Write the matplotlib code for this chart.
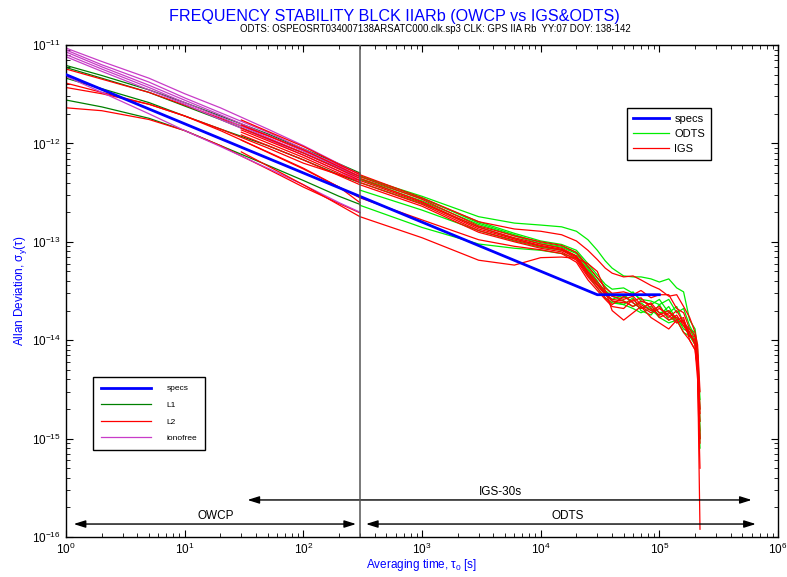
import matplotlib
matplotlib.use("Agg")
import matplotlib.pyplot as plt

plt.rcParams['font.family'] = ['Liberation Sans', 'DejaVu Sans']
plt.rcParams['mathtext.fontset'] = 'custom'
plt.rcParams['mathtext.rm'] = 'Liberation Sans'
plt.rcParams['mathtext.it'] = 'Liberation Sans'
plt.rcParams['mathtext.bf'] = 'Liberation Sans:bold'

# ---------------- data ----------------
spec_tau = [1, 3.0e4, 1.0e5]
spec_val = [5.0e-12, 2.9e-14, 2.9e-14]

owcp_tau = [1, 2, 5, 10, 20, 50, 100, 200, 300]

l1_curves = [
    [6.2e-12, 4.9e-12, 3.5e-12, 2.6e-12, 1.9e-12, 1.25e-12, 8.8e-13, 6.2e-13, 5.0e-13],
    [5.9e-12, 4.6e-12, 3.3e-12, 2.4e-12, 1.75e-12, 1.12e-12, 8.0e-13, 5.6e-13, 4.6e-13],
    [4.6e-12, 3.6e-12, 2.6e-12, 1.9e-12, 1.4e-12, 9.5e-13, 6.8e-13, 4.8e-13, 4.0e-13],
    [2.76e-12, 2.35e-12, 1.8e-12, 1.35e-12, 9.5e-13, 6.0e-13, 4.2e-13, 2.9e-13, 2.4e-13],
]
l2_curves = [
    [5.7e-12, 4.5e-12, 3.3e-12, 2.45e-12, 1.8e-12, 1.2e-12, 8.4e-13, 6.0e-13, 4.9e-13],
    [4.1e-12, 3.3e-12, 2.5e-12, 1.9e-12, 1.4e-12, 9.0e-13, 6.3e-13, 4.8e-13, 4.2e-13],
    [3.7e-12, 3.2e-12, 2.5e-12, 1.9e-12, 1.35e-12, 8.2e-13, 5.6e-13, 3.6e-13, 2.5e-13],
    [2.3e-12, 2.15e-12, 1.75e-12, 1.35e-12, 9.5e-13, 5.5e-13, 3.6e-13, 2.45e-13, 1.97e-13],
]
iono_curves = [
    [9.3e-12, 6.8e-12, 4.6e-12, 3.2e-12, 2.3e-12, 1.4e-12, 9.5e-13, 6.2e-13, 4.8e-13],
    [8.9e-12, 6.3e-12, 4.2e-12, 2.9e-12, 2.05e-12, 1.3e-12, 8.8e-13, 5.9e-13, 4.6e-13],
    [8.5e-12, 6.0e-12, 3.9e-12, 2.75e-12, 1.95e-12, 1.22e-12, 8.4e-13, 5.7e-13, 4.4e-13],
    [8.0e-12, 5.7e-12, 3.7e-12, 2.6e-12, 1.85e-12, 1.15e-12, 8.0e-13, 5.5e-13, 4.2e-13],
    [7.6e-12, 5.4e-12, 3.5e-12, 2.5e-12, 1.75e-12, 1.1e-12, 7.6e-13, 5.2e-13, 4.0e-13],
    [4.8e-12, 3.3e-12, 2.0e-12, 1.35e-12, 9.3e-13, 5.6e-13, 3.8e-13, 2.5e-13, 2.0e-13],
]

igs_tau = [30, 100, 300, 1000, 3000, 6000,
           1e4, 1.5e4, 2e4, 2.5e4, 3e4, 3.5e4, 4e4, 5e4, 6e4, 7e4, 8.5e4,
           1e5, 1.2e5, 1.4e5, 1.6e5, 1.8e5, 2e5, 2.1e5, 2.2e5]
igs_curves = [
    [1.73e-12, 9.3e-13, 4.8e-13, 2.8e-13, 1.6e-13, 1.35e-13,
     1.28e-13, 1.18e-13, 1.02e-13, 8.2e-14, 6.6e-14, 5.4e-14, 4.8e-14, 4.4e-14, 4.5e-14, 4.1e-14, 3.6e-14,
     3.3e-14, 2.8e-14, 2.9e-14, 2.2e-14, 1.7e-14, 1.2e-14, 9e-15, 3e-15],
    [1.54e-12, 8.6e-13, 4.6e-13, 2.7e-13, 1.45e-13, 1.15e-13,
     1.0e-13, 9.2e-14, 7.8e-14, 5.6e-14, 4.3e-14, 3.4e-14, 3.0e-14, 3.1e-14, 2.9e-14, 3.2e-14, 2.7e-14,
     2.9e-14, 2.9e-14, 2.1e-14, 1.9e-14, 1.3e-14, 1.1e-14, 7e-15, 1.8e-15],
    [1.43e-12, 8.0e-13, 4.4e-13, 2.55e-13, 1.4e-13, 1.1e-13,
     9.5e-14, 8.6e-14, 7.2e-14, 5.0e-14, 3.9e-14, 3.1e-14, 2.8e-14, 2.6e-14, 2.8e-14, 2.3e-14, 2.0e-14,
     2.2e-14, 1.7e-14, 2.0e-14, 1.5e-14, 1.2e-14, 9e-15, 5e-15, 9e-16],
    [1.3e-12, 7.2e-13, 4.0e-13, 2.4e-13, 1.3e-13, 1.04e-13,
     9.0e-14, 8.2e-14, 6.8e-14, 4.6e-14, 3.6e-14, 2.9e-14, 2.5e-14, 2.4e-14, 2.5e-14, 2.7e-14, 2.1e-14,
     1.8e-14, 2.0e-14, 1.6e-14, 1.7e-14, 1.0e-14, 8e-15, 4e-15, 5e-16],
    [1.22e-12, 6.8e-13, 3.8e-13, 2.3e-13, 1.25e-13, 1.0e-13,
     8.6e-14, 7.9e-14, 6.5e-14, 4.4e-14, 3.4e-14, 2.7e-14, 2.3e-14, 2.8e-14, 2.4e-14, 2.1e-14, 2.4e-14,
     1.9e-14, 1.6e-14, 1.8e-14, 1.4e-14, 1.1e-14, 1.0e-14, 5e-15, 1.2e-16],
    [1.08e-12, 5.5e-13, 2.8e-13, 1.67e-13, 1.05e-13, 9.0e-14,
     8.3e-14, 7.6e-14, 6.2e-14, 4.1e-14, 3.2e-14, 2.6e-14, 2.2e-14, 2.1e-14, 2.6e-14, 2.2e-14, 1.9e-14,
     2.1e-14, 1.8e-14, 1.5e-14, 1.6e-14, 1.2e-14, 9e-15, 6e-15, 2e-15],
    [8.2e-13, 3.8e-13, 1.8e-13, 1.1e-13, 6.5e-14, 5.8e-14,
     6.9e-14, 7.0e-14, 6.8e-14, 6.0e-14, 5.0e-14, 3.2e-14, 2.0e-14, 1.6e-14, 1.9e-14, 2.2e-14, 1.7e-14,
     1.5e-14, 1.3e-14, 1.6e-14, 1.2e-14, 1.0e-14, 8e-15, 5e-15, 1.5e-15],
    [1.37e-12, 7.6e-13, 4.2e-13, 2.5e-13, 1.35e-13, 1.07e-13,
     9.2e-14, 8.4e-14, 7.0e-14, 4.8e-14, 3.7e-14, 3.0e-14, 2.6e-14, 2.5e-14, 2.2e-14, 2.5e-14, 2.3e-14,
     1.7e-14, 1.9e-14, 1.7e-14, 1.5e-14, 1.1e-14, 1.1e-14, 6e-15, 1e-15],
]

odts_tau = [300, 1000, 3000, 6000,
            1e4, 1.5e4, 2e4, 2.5e4, 3e4, 3.5e4, 4e4, 5e4, 6e4, 7e4, 8.5e4,
            1e5, 1.2e5, 1.4e5, 1.6e5, 1.8e5, 2e5, 2.1e5, 2.2e5]
odts_curves = [
    [4.6e-13, 2.9e-13, 1.8e-13, 1.55e-13,
     1.48e-13, 1.42e-13, 1.28e-13, 1.05e-13, 8.2e-14, 6.4e-14, 5.4e-14, 4.5e-14, 4.4e-14, 4.4e-14, 4.2e-14,
     3.9e-14, 4.2e-14, 3.4e-14, 3.1e-14, 1.6e-14, 1.3e-14, 8e-15, 2.5e-15],
    [4.4e-13, 2.75e-13, 1.6e-13, 1.22e-13,
     1.02e-13, 9.4e-14, 8.2e-14, 6.0e-14, 4.6e-14, 3.7e-14, 3.3e-14, 3.4e-14, 3.0e-14, 2.6e-14, 2.5e-14,
     2.3e-14, 2.6e-14, 1.9e-14, 2.1e-14, 1.4e-14, 1.1e-14, 6e-15, 1.2e-15],
    [4.3e-13, 2.6e-13, 1.5e-13, 1.15e-13,
     9.5e-14, 8.8e-14, 7.6e-14, 5.4e-14, 4.0e-14, 3.0e-14, 2.5e-14, 2.3e-14, 2.7e-14, 2.0e-14, 1.8e-14,
     2.3e-14, 1.6e-14, 1.7e-14, 1.3e-14, 1.2e-14, 9e-15, 5e-15, 8e-16],
    [4.0e-13, 2.45e-13, 1.42e-13, 1.08e-13,
     9.0e-14, 8.3e-14, 7.1e-14, 4.9e-14, 3.7e-14, 2.9e-14, 2.6e-14, 2.9e-14, 2.4e-14, 2.1e-14, 2.2e-14,
     1.9e-14, 2.0e-14, 1.5e-14, 1.6e-14, 1.1e-14, 1.0e-14, 5e-15, 1.0e-15],
    [3.35e-13, 2.1e-13, 1.3e-13, 1.02e-13,
     8.8e-14, 8.2e-14, 7.2e-14, 5.2e-14, 3.9e-14, 3.2e-14, 2.8e-14, 2.5e-14, 2.2e-14, 2.4e-14, 2.0e-14,
     1.8e-14, 2.2e-14, 1.6e-14, 1.4e-14, 1.3e-14, 1.0e-14, 7e-15, 1.5e-15],
    [2.35e-13, 1.4e-13, 9.5e-14, 8.6e-14,
     8.2e-14, 7.6e-14, 6.8e-14, 4.6e-14, 3.4e-14, 2.7e-14, 2.4e-14, 2.3e-14, 2.1e-14, 1.9e-14, 2.1e-14,
     1.7e-14, 1.5e-14, 1.6e-14, 1.2e-14, 1.1e-14, 9e-15, 6e-15, 1.0e-15],
    [4.7e-13, 2.8e-13, 1.55e-13, 1.18e-13,
     9.8e-14, 9.0e-14, 7.8e-14, 5.7e-14, 4.3e-14, 3.5e-14, 2.9e-14, 2.7e-14, 3.1e-14, 2.5e-14, 2.3e-14,
     2.6e-14, 1.9e-14, 2.2e-14, 1.5e-14, 1.3e-14, 1.2e-14, 7e-15, 2e-15],
]

split_tau = 300

# ---------------- figure ----------------
fig = plt.figure(figsize=(7.87, 5.77), dpi=100)
ax = fig.add_axes([0.0839, 0.0693, 0.9047, 0.8527])
ax.set_xscale('log')
ax.set_yscale('log')

C_L1 = '#008000'
C_RED = '#ff0000'
C_ION = '#c83cc8'
C_ODTS = '#00ee00'
C_BLUE = '#0000ff'

h_l1 = h_l2 = h_ion = h_odts = h_igs = None
for c in l1_curves:
    h_l1, = ax.plot(owcp_tau, c, color=C_L1, lw=0.9)
for c in l2_curves:
    h_l2, = ax.plot(owcp_tau, c, color=C_RED, lw=0.9)
for c in iono_curves:
    h_ion, = ax.plot(owcp_tau, c, color=C_ION, lw=0.9)
for c in odts_curves:
    h_odts, = ax.plot(odts_tau, c, color=C_ODTS, lw=0.9)
for c in igs_curves:
    h_igs, = ax.plot(igs_tau, c, color=C_RED, lw=0.9)
h_spec, = ax.plot(spec_tau, spec_val, color=C_BLUE, lw=2, zorder=5)

ax.axvline(split_tau, color='#555555', lw=1.1, zorder=6)

ax.set_xlim(1, 1e6)
ax.set_ylim(1e-16, 1e-11)

ax.tick_params(which='both', direction='in', top=True, right=True, labelsize=8.5)
ax.tick_params(which='major', length=5)
ax.tick_params(which='minor', length=3)
for s in ax.spines.values():
    s.set_linewidth(1.0)

ax.set_xlabel(r'Averaging time, $\tau_0$ [s]', color=C_BLUE, fontsize=8.5, labelpad=0)
ax.set_ylabel(r'Allan Deviation, $\sigma_y(\tau)$', color=C_BLUE, fontsize=8.5, labelpad=2)

fig.text(0.501, 0.972, 'FREQUENCY STABILITY BLCK IIARb (OWCP vs IGS&ODTS)',
         color=C_BLUE, fontsize=11.6, ha='center', va='center')
fig.text(0.553, 0.949,
         'ODTS: OSPEOSRT034007138ARSATC000.clk.sp3 CLK: GPS IIA Rb  YY:07 DOY: 138-142',
         color='black', fontsize=6.9, ha='center', va='center')

# arrows / range annotations
arw = dict(arrowstyle='<|-|>,head_length=0.7,head_width=0.22', color='black', lw=1,
           shrinkA=0, shrinkB=0)
ax.annotate('', xy=(1.16, 1.355e-16), xytext=(278, 1.355e-16), arrowprops=arw)
ax.annotate('', xy=(337, 1.355e-16), xytext=(6.5e5, 1.355e-16), arrowprops=arw)
ax.annotate('', xy=(33.8, 2.38e-16), xytext=(6.0e5, 2.38e-16), arrowprops=arw)
ax.text(18.4, 1.62e-16, 'OWCP', fontsize=8.5, ha='center', va='center')
ax.text(1.7e4, 1.62e-16, 'ODTS', fontsize=8.5, ha='center', va='center')
ax.text(4.6e3, 2.85e-16, 'IGS-30s', fontsize=8.5, ha='center', va='center')

# legends
leg1 = ax.legend([h_spec, h_odts, h_igs], ['specs', 'ODTS', 'IGS'],
                 loc='upper left', bbox_to_anchor=(0.788, 0.872), fontsize=8,
                 fancybox=False, edgecolor='black', framealpha=1,
                 handlelength=3.2, labelspacing=0.45, borderpad=0.55, handletextpad=0.5,
                 borderaxespad=0)
leg1.get_frame().set_linewidth(1.0)
ax.add_artist(leg1)
leg2 = ax.legend([h_spec, h_l1, h_l2, h_ion], ['specs', 'L1', 'L2', 'ionofree'],
                 loc='upper left', bbox_to_anchor=(0.038, 0.325), fontsize=6,
                 fancybox=False, edgecolor='black', framealpha=1,
                 handlelength=6.0, labelspacing=1.05, borderpad=0.9, handletextpad=1.9,
                 borderaxespad=0)
leg2.get_frame().set_linewidth(1.0)

fig.savefig('out.png', dpi=100)
